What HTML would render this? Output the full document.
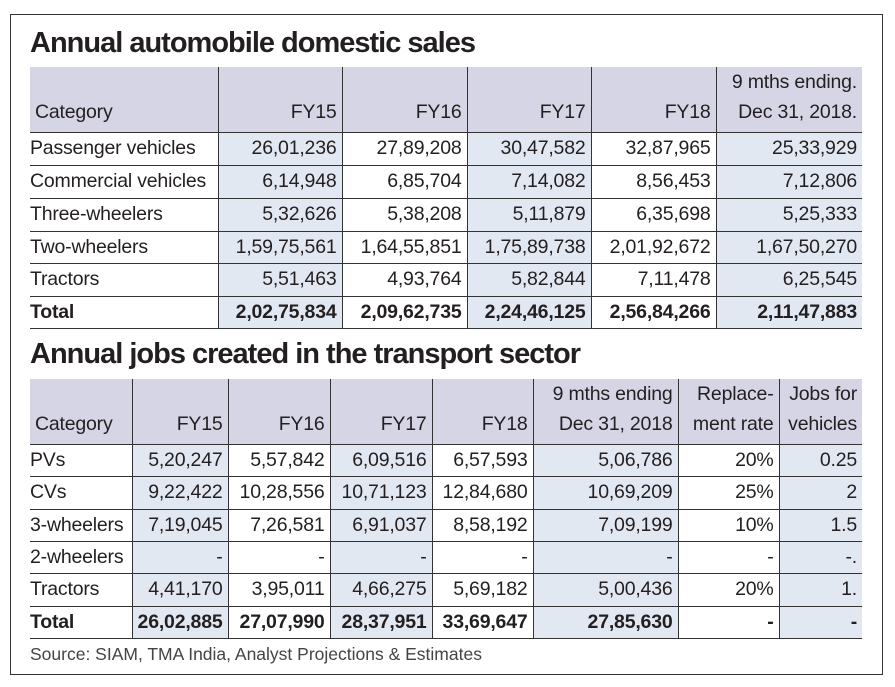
<!DOCTYPE html>
<html><head><meta charset="utf-8"><style>
body{margin:0;width:895px;height:687px;background:#fff;font-family:"Liberation Sans",sans-serif;color:#231f20;position:relative;overflow:hidden}
.frame{position:absolute;left:10px;top:14px;width:873px;height:661px;border:1px solid #333;box-sizing:border-box}
h1{position:absolute;left:30px;margin:0;font-size:29px;font-weight:bold;letter-spacing:-1px;white-space:nowrap}
table{position:absolute;left:30px;border-collapse:collapse;table-layout:fixed;font-size:19.5px}
td{padding:0 5px 0 0;text-align:right;white-space:nowrap;border-left:1.5px solid #333;border-bottom:1.5px solid #333;line-height:1;letter-spacing:-0.2px}
td:first-child{text-align:left;border-left:none;padding-left:0}
tr.h td{background:#d6d5e6;vertical-align:bottom;padding-bottom:5px;line-height:30px}
tr.h td:first-child{padding-left:5px}
td.s{background:#e2e8f2}
tr.t td{font-weight:bold}
.src{position:absolute;left:30px;top:644px;font-size:17.5px;color:#444}
</style></head><body>
<div class="frame"></div>
<h1 style="top:27px">Annual automobile domestic sales</h1>
<table style="top:67px;width:832px">
<colgroup><col style="width:188px"><col style="width:124px"><col style="width:125px"><col style="width:124px"><col style="width:125px"><col style="width:146px"></colgroup>
<tr class="h" style="height:64px"><td>Category</td><td>FY15</td><td>FY16</td><td>FY17</td><td>FY18</td><td>9 mths ending.<br>Dec 31, 2018.</td></tr>
<tr style="height:33px"><td>Passenger vehicles</td><td class="s">26,01,236</td><td>27,89,208</td><td class="s">30,47,582</td><td>32,87,965</td><td class="s">25,33,929</td></tr>
<tr style="height:33px"><td>Commercial vehicles</td><td class="s">6,14,948</td><td>6,85,704</td><td class="s">7,14,082</td><td>8,56,453</td><td class="s">7,12,806</td></tr>
<tr style="height:33px"><td>Three-wheelers</td><td class="s">5,32,626</td><td>5,38,208</td><td class="s">5,11,879</td><td>6,35,698</td><td class="s">5,25,333</td></tr>
<tr style="height:32px"><td>Two-wheelers</td><td class="s">1,59,75,561</td><td>1,64,55,851</td><td class="s">1,75,89,738</td><td>2,01,92,672</td><td class="s">1,67,50,270</td></tr>
<tr style="height:33px"><td>Tractors</td><td class="s">5,51,463</td><td>4,93,764</td><td class="s">5,82,844</td><td>7,11,478</td><td class="s">6,25,545</td></tr>
<tr class="t" style="height:32px"><td>Total</td><td class="s">2,02,75,834</td><td>2,09,62,735</td><td class="s">2,24,46,125</td><td>2,56,84,266</td><td class="s">2,11,47,883</td></tr>
</table>
<h1 style="top:338px">Annual jobs created in the transport sector</h1>
<table style="top:379px;width:832px">
<colgroup><col style="width:102px"><col style="width:96px"><col style="width:102px"><col style="width:102px"><col style="width:101px"><col style="width:145px"><col style="width:101px"><col style="width:83px"></colgroup>
<tr class="h" style="height:62px"><td>Category</td><td>FY15</td><td>FY16</td><td>FY17</td><td>FY18</td><td>9 mths ending<br>Dec 31, 2018</td><td>Replace-<br>ment rate</td><td>Jobs for<br>vehicles</td></tr>
<tr style="height:32px"><td>PVs</td><td class="s">5,20,247</td><td>5,57,842</td><td class="s">6,09,516</td><td>6,57,593</td><td class="s">5,06,786</td><td>20%</td><td class="s">0.25</td></tr>
<tr style="height:33px"><td>CVs</td><td class="s">9,22,422</td><td>10,28,556</td><td class="s">10,71,123</td><td>12,84,680</td><td class="s">10,69,209</td><td>25%</td><td class="s">2</td></tr>
<tr style="height:32px"><td>3-wheelers</td><td class="s">7,19,045</td><td>7,26,581</td><td class="s">6,91,037</td><td>8,58,192</td><td class="s">7,09,199</td><td>10%</td><td class="s">1.5</td></tr>
<tr style="height:32px"><td>2-wheelers</td><td class="s">-</td><td>-</td><td class="s">-</td><td>-</td><td class="s">-</td><td>-</td><td class="s">-.</td></tr>
<tr style="height:33px"><td>Tractors</td><td class="s">4,41,170</td><td>3,95,011</td><td class="s">4,66,275</td><td>5,69,182</td><td class="s">5,00,436</td><td>20%</td><td class="s">1.</td></tr>
<tr class="t" style="height:32px"><td>Total</td><td class="s">26,02,885</td><td>27,07,990</td><td class="s">28,37,951</td><td>33,69,647</td><td class="s">27,85,630</td><td>-</td><td class="s">-</td></tr>
</table>
<div class="src">Source: SIAM, TMA India, Analyst Projections &amp; Estimates</div>
</body></html>
